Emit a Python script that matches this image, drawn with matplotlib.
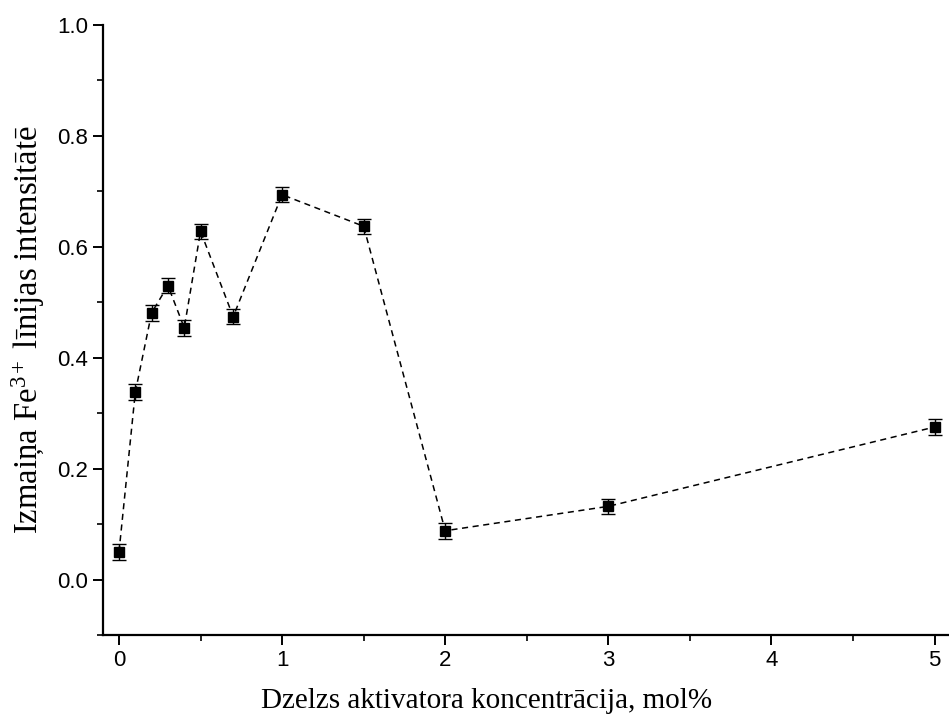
import matplotlib
matplotlib.use("Agg")
import matplotlib.pyplot as plt
from matplotlib.ticker import MultipleLocator

plt.rcParams['mathtext.fontset'] = 'custom'
plt.rcParams['mathtext.rm'] = 'Liberation Serif'
plt.rcParams['mathtext.it'] = 'Liberation Serif:italic'
plt.rcParams['mathtext.bf'] = 'Liberation Serif:bold'

conc = [0, 0.1, 0.2, 0.3, 0.4, 0.5, 0.7, 1.0, 1.5, 2.0, 3.0, 5.0]
intensity = [0.050, 0.338, 0.481, 0.530, 0.454, 0.628, 0.474, 0.694, 0.637, 0.088, 0.132, 0.275]
errors = [0.014, 0.014, 0.014, 0.014, 0.014, 0.014, 0.014, 0.014, 0.014, 0.014, 0.014, 0.014]
xticks = [0, 1, 2, 3, 4, 5]
yticks = [0.0, 0.2, 0.4, 0.6, 0.8, 1.0]

W, H = 949, 727
fig = plt.figure(figsize=(W / 100, H / 100), dpi=100)
left = 102.7 / W
bottom = (H - 635) / H
height = (635 - 25) / H
width = (5.2 * 163.1) / W
ax = fig.add_axes([left, bottom, width, height])

ax.errorbar(conc, intensity, yerr=errors, fmt='s', color='black',
            ms=7.5, ecolor='black', elinewidth=1.0, capsize=5, capthick=1.0, zorder=3)
ax.plot(conc, intensity, linestyle=(0, (4, 3)), color='black', lw=1.1, zorder=2)

ax.set_xlim(-0.1, 5.1)
ax.set_ylim(-0.1, 1.0)
ax.set_xticks(xticks)
ax.set_xticklabels([str(v) for v in xticks])
ax.set_yticks(yticks)
ax.set_yticklabels([f"{v:.1f}" for v in yticks])
ax.xaxis.set_minor_locator(MultipleLocator(0.5))
ax.yaxis.set_minor_locator(MultipleLocator(0.1))

for s in ['top', 'right']:
    ax.spines[s].set_visible(False)
for s in ['left', 'bottom']:
    ax.spines[s].set_linewidth(1.6)

ax.tick_params(which='major', direction='out', length=7, width=1.4,
               labelsize=16, pad=3.5)
ax.tick_params(which='minor', direction='out', length=4, width=1.2)
for lab in ax.get_xticklabels() + ax.get_yticklabels():
    lab.set_fontfamily(['Liberation Sans', 'DejaVu Sans'])

fig.text(487 / W, (H - 701) / H, "Dzelzs aktivatora koncentrācija, mol%",
         ha='center', va='center', fontsize=21,
         family=['Liberation Serif', 'DejaVu Serif'])
fig.text(28 / W, (H - 330) / H, "Izmaiņa Fe$^{3+}$ līnijas intensitātē",
         ha='center', va='center', rotation=90, fontsize=23.5,
         family=['Liberation Serif', 'DejaVu Serif'])

fig.savefig("out.png", dpi=100)
